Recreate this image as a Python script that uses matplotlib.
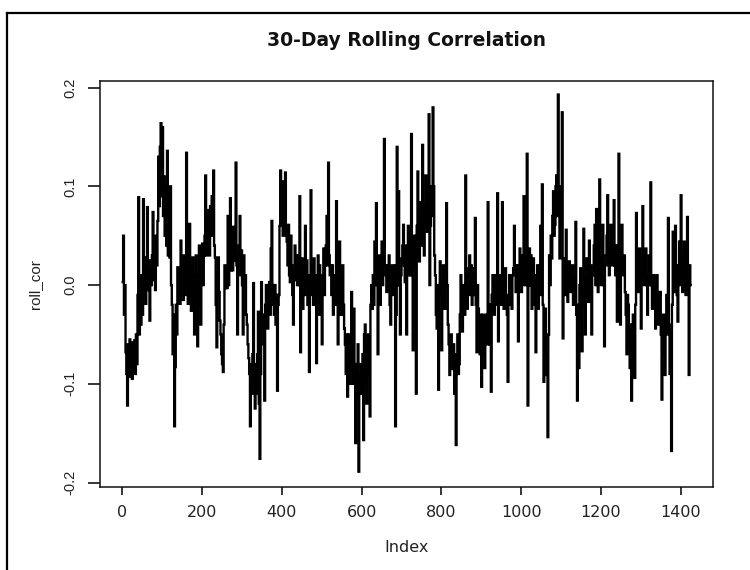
import numpy as np
import matplotlib
matplotlib.use("Agg")
import matplotlib.pyplot as plt
from matplotlib.lines import Line2D

# 30-day rolling correlation, every 2nd observation (index 1, 3, ..., 1425)
SAMPLE_STEP = 2
ROLL_COR = [
    # 1 - 39
    0.003, 0.05, -0.03, 0.0, -0.068, -0.09, -0.122, -0.06, -0.093, -0.055,
    -0.088, -0.06, -0.095, -0.058, -0.085, -0.056, -0.09, -0.05, -0.08, -0.01,
    # 41 - 79
    0.089, -0.05, 0.0, -0.04, 0.01, -0.03, 0.087, -0.01, 0.028, -0.019,
    0.02, 0.079, -0.005, 0.025, -0.036, 0.018, 0.0, 0.03, 0.074, 0.005,
    # 81 - 119
    0.03, -0.005, 0.05, 0.02, 0.065, 0.13, 0.08, 0.14, 0.164, 0.09,
    0.16, 0.07, 0.11, 0.05, 0.1, 0.04, 0.136, 0.03, 0.07, 0.028,
    # 121 - 159
    0.1, 0.0, -0.02, -0.07, -0.03, -0.143, -0.083, -0.02, -0.05, 0.018,
    -0.015, 0.015, -0.019, 0.045, -0.01, 0.02, -0.015, 0.03, -0.01, 0.02,
    # 161 - 199
    0.134, 0.0, -0.019, 0.025, 0.062, -0.01, -0.026, 0.02, 0.028, -0.02,
    -0.05, 0.01, 0.03, -0.015, -0.062, 0.01, 0.04, -0.02, -0.04, 0.02,
    # 201 - 239
    0.042, 0.0, 0.03, 0.05, 0.111, 0.03, 0.07, 0.04, 0.076, 0.03,
    0.08, 0.05, 0.09, 0.06, 0.116, 0.04, 0.028, -0.02, -0.063, 0.01,
    # 241 - 279
    0.028, -0.007, -0.036, -0.05, -0.07, -0.08, -0.088, -0.04, 0.02, -0.003,
    0.015, -0.003, 0.07, 0.0, 0.02, 0.088, 0.015, 0.04, 0.015, 0.059,
    # 281 - 319
    0.025, 0.055, 0.124, 0.02, -0.05, 0.03, 0.04, 0.07, 0.01, 0.035,
    0.0, -0.05, 0.03, 0.0, 0.01, -0.03, -0.04, -0.06, -0.074, -0.09,
    # 321 - 359
    -0.143, -0.08, -0.11, -0.07, 0.002, -0.1, -0.125, -0.08, -0.11, -0.07,
    -0.027, -0.12, -0.176, -0.09, 0.003, -0.04, -0.03, -0.06, -0.117, -0.02,
    # 361 - 399
    0.0, -0.04, -0.044, -0.01, 0.003, -0.03, 0.037, 0.065, -0.02, 0.0,
    -0.03, 0.0, -0.04, -0.01, -0.107, -0.02, -0.01, 0.06, 0.116, 0.06,
    # 401 - 439
    0.1, 0.05, 0.105, 0.06, 0.114, 0.05, 0.044, 0.02, 0.061, 0.01,
    0.003, 0.05, 0.02, -0.01, -0.04, 0.01, 0.04, 0.005, 0.03, 0.0,
    # 441 - 479
    0.03, 0.0, 0.09, -0.068, 0.0, 0.027, -0.024, 0.02, -0.01, 0.06,
    0.0, 0.025, -0.02, 0.01, -0.088, 0.0, 0.096, -0.01, 0.02, -0.02,
    # 481 - 519
    0.027, -0.02, 0.01, -0.079, -0.03, 0.03, -0.01, 0.02, -0.03, -0.01,
    -0.06, 0.01, 0.037, -0.01, 0.02, 0.04, 0.07, 0.02, 0.124, 0.03,
    # 521 - 559
    0.01, 0.02, -0.01, 0.02, -0.03, 0.0, -0.02, 0.01, 0.085, -0.02,
    -0.06, 0.0, 0.044, -0.03, 0.01, -0.03, 0.02, -0.02, -0.044, -0.06,
    # 561 - 599
    -0.09, -0.05, -0.113, -0.06, -0.05, -0.1, -0.07, -0.007, -0.08, -0.1,
    -0.024, -0.09, -0.16, -0.08, -0.11, -0.06, -0.189, -0.09, -0.11, -0.08,
    # 601 - 639
    -0.11, -0.07, -0.157, -0.05, -0.04, -0.1, -0.12, -0.06, -0.05, -0.09,
    -0.133, -0.02, 0.0, -0.024, 0.01, -0.02, 0.044, 0.0, 0.083, 0.01,
    # 641 - 679
    -0.07, 0.0, 0.03, -0.02, 0.02, 0.044, 0.0, 0.04, 0.148, 0.02,
    0.01, -0.007, 0.02, 0.0, 0.03, -0.02, -0.04, 0.0, 0.02, -0.01,
    # 681 - 719
    -0.007, 0.02, -0.143, -0.03, 0.14, 0.0, 0.095, 0.0, -0.05, 0.01,
    0.027, 0.04, 0.061, 0.02, 0.003, 0.04, -0.05, 0.02, 0.06, 0.01,
    # 721 - 759
    0.03, 0.01, 0.153, 0.02, -0.066, 0.03, 0.05, 0.02, -0.11, 0.06,
    0.115, 0.03, 0.024, 0.07, 0.084, 0.04, 0.142, 0.05, 0.03, 0.08,
    # 761 - 799
    0.111, 0.06, 0.054, 0.1, 0.173, 0.0, 0.06, 0.1, 0.07, 0.18,
    0.1, 0.03, 0.01, -0.03, -0.044, 0.0, -0.106, 0.0, 0.024, -0.01,
    # 801 - 839
    -0.066, 0.0, 0.02, -0.02, -0.024, 0.01, 0.083, 0.0, -0.04, -0.06,
    -0.091, -0.05, -0.05, -0.08, -0.085, -0.06, -0.11, -0.07, -0.162, -0.08,
    # 841 - 879
    -0.05, -0.09, -0.08, -0.03, 0.01, -0.04, -0.047, 0.0, 0.0, -0.03,
    0.111, 0.0, -0.024, 0.01, 0.017, 0.03, -0.01, 0.02, -0.02, 0.01,
    # 881 - 919
    0.017, -0.01, 0.068, -0.02, -0.068, 0.0, -0.024, -0.05, -0.07, -0.03,
    -0.103, -0.05, -0.03, -0.07, -0.084, -0.04, -0.03, -0.06, 0.084, -0.02,
    # 921 - 959
    -0.06, -0.02, -0.108, -0.01, 0.01, -0.03, -0.03, 0.0, 0.01, -0.02,
    0.093, -0.057, -0.01, 0.01, 0.01, -0.02, 0.084, 0.0, -0.024, 0.01,
    # 961 - 999
    0.017, -0.01, -0.03, -0.098, -0.02, 0.01, 0.01, -0.02, -0.024, 0.01,
    0.017, 0.06, 0.02, -0.007, 0.02, 0.0, -0.057, 0.02, 0.037, 0.0,
    # 1001 - 1039
    -0.007, 0.03, 0.0, 0.09, 0.02, 0.0, 0.03, 0.133, -0.122, 0.0,
    0.037, 0.0, 0.03, -0.024, 0.02, 0.027, -0.02, 0.01, -0.068, 0.0,
    # 1041 - 1079
    0.02, -0.024, 0.01, 0.02, 0.06, -0.01, 0.102, -0.02, -0.098, -0.03,
    -0.024, -0.07, -0.091, -0.154, -0.05, 0.03, 0.0, 0.05, 0.027, 0.07,
    # 1081 - 1119
    0.095, 0.05, 0.061, 0.1, 0.111, 0.07, 0.193, 0.08, 0.027, 0.1,
    0.06, 0.175, -0.054, 0.0, 0.027, -0.01, 0.056, 0.0, -0.017, 0.02,
    # 1121 - 1159
    0.024, 0.0, -0.007, 0.02, 0.02, -0.02, -0.02, 0.01, 0.064, -0.03,
    -0.117, -0.02, -0.084, 0.0, 0.017, -0.04, -0.067, 0.0, 0.057, -0.02,
    # 1161 - 1199
    -0.05, 0.01, 0.027, -0.01, -0.017, 0.045, 0.0, 0.02, -0.05, 0.01,
    0.01, 0.04, 0.061, 0.0, 0.077, 0.02, -0.007, 0.04, 0.107, 0.01,
    # 1201 - 1239
    0.0, 0.04, 0.061, 0.0, -0.062, 0.02, 0.03, 0.05, 0.091, 0.02,
    0.01, 0.04, 0.061, 0.02, 0.02, 0.05, 0.086, 0.02, 0.01, 0.04,
    # 1241 - 1279
    -0.037, 0.04, 0.133, 0.02, -0.04, 0.03, 0.061, 0.02, 0.01, 0.03,
    -0.007, -0.03, -0.07, -0.01, -0.02, -0.06, -0.084, -0.04, -0.117, -0.05,
    # 1281 - 1319
    -0.03, -0.07, -0.094, -0.02, 0.073, 0.0, -0.007, 0.02, 0.037, 0.0,
    -0.044, 0.01, 0.08, 0.01, 0.0, 0.03, 0.037, 0.0, -0.03, 0.01,
    # 1321 - 1359
    0.03, 0.0, 0.104, 0.0, -0.024, 0.0, 0.01, -0.02, -0.044, 0.0,
    0.01, -0.02, -0.04, -0.01, -0.007, -0.05, -0.116, -0.04, -0.03, -0.07,
    # 1361 - 1399
    -0.091, -0.04, -0.01, -0.05, 0.068, -0.04, -0.09, -0.05, -0.168, -0.02,
    0.054, 0.0, -0.007, 0.06, 0.02, -0.01, -0.037, 0.02, 0.044, 0.0,
    # 1401 - 1425
    0.091, 0.02, -0.007, 0.03, 0.044, 0.0, -0.01, 0.03, 0.069, 0.0,
    -0.091, 0.02, 0.0,
]
X_TICKS = [0, 200, 400, 600, 800, 1000, 1200, 1400]
Y_TICKS = [-0.2, -0.1, 0.0, 0.1, 0.2]
Y_TICK_LABELS = ["-0.2", "-0.1", "0.0", "0.1", "0.2"]

W, H = 750, 570
fig = plt.figure(figsize=(W / 100, H / 100), dpi=100)

# plot region in pixels: left 100, right 713, top 81, bottom 487
ax = fig.add_axes([100 / W, 1 - 487 / H, 613 / W, 406 / H])

index = 1 + SAMPLE_STEP * np.arange(len(ROLL_COR))
# the series is dense enough that every move reads as a vertical stroke
ax.plot(index, ROLL_COR, color="black", lw=1.7, drawstyle="steps-mid",
        solid_joinstyle="miter")

ax.set_xlim(-56, 1481)
ax.set_ylim(-0.2045, 0.2067)

for s in ax.spines.values():
    s.set_linewidth(1.1)
    s.set_color("#111111")

ax.set_xticks(X_TICKS)
ax.set_xticklabels([str(t) for t in X_TICKS], family="DejaVu Sans",
                   fontsize=11.5, color="#222222")
ax.set_yticks(Y_TICKS)
ax.set_yticklabels(Y_TICK_LABELS, family="Liberation Sans", fontsize=10.5,
                   color="#222222", rotation=90, va="center")
ax.tick_params(axis="x", direction="out", length=6, width=1.1, pad=7)
ax.tick_params(axis="y", direction="out", length=9, width=1.1, pad=7)

ax.set_xlabel("Index", family="DejaVu Sans", fontsize=11.5, color="#222222")
ax.xaxis.set_label_coords(0.5, -(547 - 487) / 406)
ax.xaxis.label.set_va("center")
ax.set_ylabel("roll_cor", family="Liberation Sans", fontsize=11, color="#222222")
ax.yaxis.set_label_coords(-(100 - 35) / 613, 0.5)
ax.yaxis.label.set_va("center")

fig.text((100 + 713) / 2 / W, 1 - 41 / H, "30-Day Rolling Correlation",
         ha="center", va="center", family="DejaVu Sans", fontweight="bold",
         fontsize=13.5, color="#111111")

# outer frame around the figure (left and top edges)
fig.add_artist(Line2D([6.5 / W, 6.5 / W], [0, 1 - 13 / H], color="black",
                      lw=1.6, transform=fig.transFigure))
fig.add_artist(Line2D([6.5 / W, 1.0], [1 - 13 / H, 1 - 13 / H], color="black",
                      lw=1.6, transform=fig.transFigure))

fig.savefig("out.png", dpi=100)
